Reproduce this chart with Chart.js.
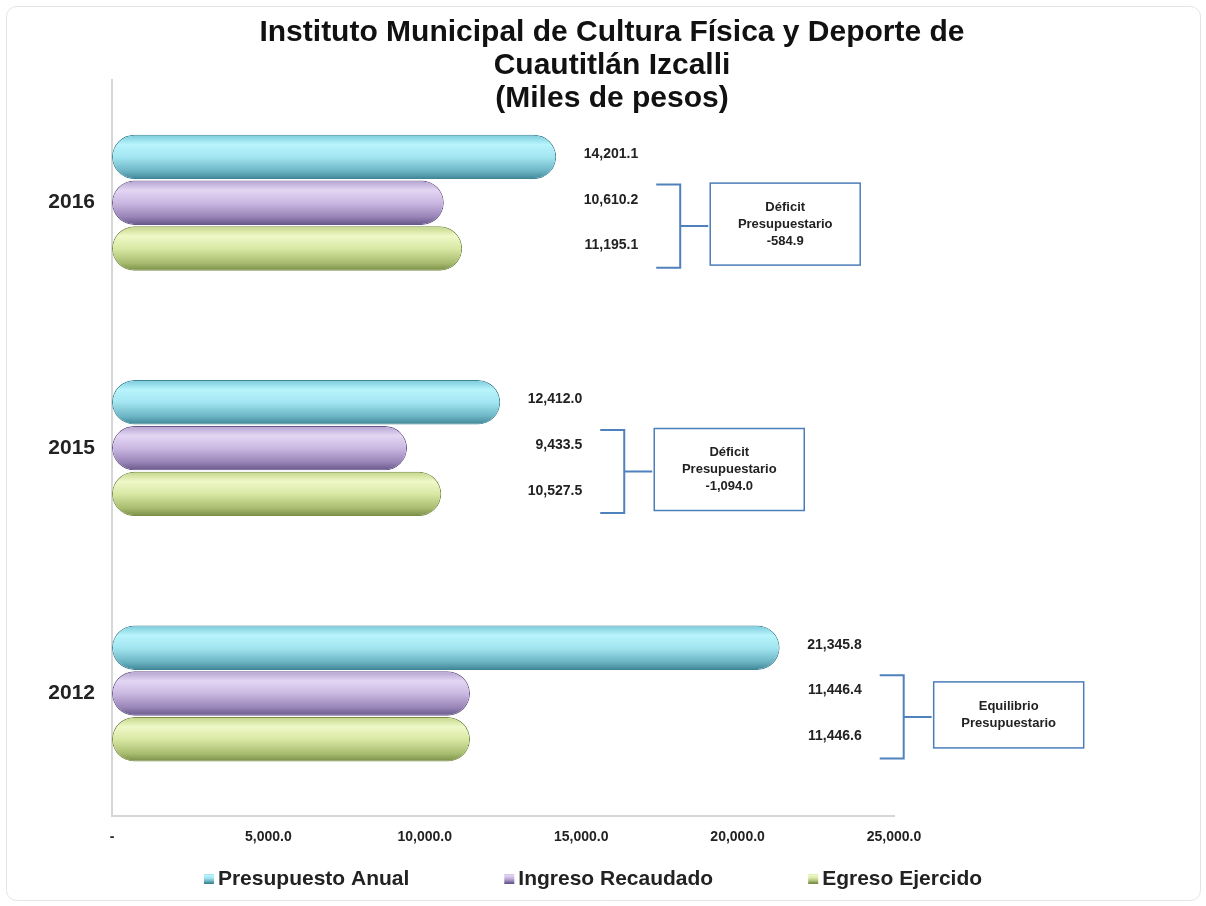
<!DOCTYPE html>
<html>
<head>
<meta charset="utf-8">
<script src="https://cdn.jsdelivr.net/npm/chart.js@4"></script>
<style>
  body { margin: 0; background: #fff; }
  #wrap { width: 1206px; height: 906px; }
</style>
</head>
<body>
<div id="wrap"><canvas id="budgetChart" width="1206" height="906"></canvas></div>
<script>
// Data (miles de pesos)
const years = ['2016', '2015', '2012'];
const presupuestoAnual = [14201.1, 12412.0, 21345.8];
const ingresoRecaudado = [10610.2, 9433.5, 11446.4];
const egresoEjercido = [11195.1, 10527.5, 11446.6];
const balanceNotes = [
    ['Déficit', 'Presupuestario', '-584.9'],
    ['Déficit', 'Presupuestario', '-1,094.0'],
    ['Equilibrio', 'Presupuestario']
];
const seriesNames = ['Presupuesto Anual', 'Ingreso Recaudado', 'Egreso Ejercido'];
const xMax = 25000;
const xStep = 5000;

// cylinder shading per series: [edge, highlight, mid, shade, dark edge]
const shades = [
    ['#79cadb', '#b8f4fc', '#a3e6f1', '#6cb4c4', '#3f8595'],
    ['#b3a1cf', '#e3d6f3', '#cbb8e2', '#9884b6', '#67578a'],
    ['#c3d688', '#eff8c8', '#d9e8a4', '#a8bd70', '#7a8d47']
];

const fmt = v => v.toLocaleString('en-US', { minimumFractionDigits: 1, maximumFractionDigits: 1 });

function cylinder(ctx, top, bottom, s) {
    const g = ctx.createLinearGradient(0, top, 0, bottom);
    g.addColorStop(0, s[0]);
    g.addColorStop(0.22, s[1]);
    g.addColorStop(0.5, s[2]);
    g.addColorStop(0.82, s[3]);
    g.addColorStop(1, s[4]);
    return g;
}

// frame around the whole picture
const framePlugin = {
    id: 'frame',
    beforeDraw(chart) {
        const ctx = chart.ctx;
        ctx.save();
        ctx.strokeStyle = '#e4e4e4';
        ctx.lineWidth = 1;
        ctx.beginPath();
        ctx.roundRect(6.5, 6.5, chart.width - 12, chart.height - 12, 10);
        ctx.stroke();
        ctx.restore();
    }
};

// give every bar a vertical gradient so it looks like a tube
const tubePlugin = {
    id: 'tubes',
    beforeDatasetsDraw(chart) {
        chart.data.datasets.forEach((ds, di) => {
            chart.getDatasetMeta(di).data.forEach(bar => {
                const top = bar.y - bar.height / 2;
                bar.options.backgroundColor = cylinder(chart.ctx, top, top + bar.height, shades[di]);
            });
        });
    }
};

// value labels, bracket and the note box for each year
const notesPlugin = {
    id: 'notes',
    afterDatasetsDraw(chart) {
        const ctx = chart.ctx;
        const x = chart.scales.x;
        ctx.save();
        years.forEach((yr, i) => {
            const bars = chart.data.datasets.map((ds, di) => chart.getDatasetMeta(di).data[i]);
            const vals = chart.data.datasets.map(ds => ds.data[i]);
            const right = x.getPixelForValue(Math.max(...vals)) + 82;

            ctx.font = 'bold 14px Arial';
            ctx.fillStyle = '#222';
            ctx.textAlign = 'right';
            ctx.textBaseline = 'middle';
            bars.forEach((b, di) => ctx.fillText(fmt(vals[di]), right, b.y - 3));

            const top = bars[1].y - bars[1].height / 2 + 4;
            const bottom = bars[2].y + bars[2].height / 2 - 3;
            const mid = (top + bottom) / 2;
            ctx.strokeStyle = '#4f81bd';
            ctx.lineWidth = 2;
            ctx.beginPath();
            ctx.moveTo(right + 18, top);
            ctx.lineTo(right + 42, top);
            ctx.lineTo(right + 42, bottom);
            ctx.lineTo(right + 18, bottom);
            ctx.moveTo(right + 42, mid);
            ctx.lineTo(right + 70, mid);
            ctx.stroke();

            const lines = balanceNotes[i];
            const h = lines.length * 16 + 34;
            const w = 150;
            const bx = right + 72;
            const by = mid - h / 2 - 2;
            ctx.fillStyle = '#fff';
            ctx.fillRect(bx, by, w, h);
            ctx.lineWidth = 1.5;
            ctx.strokeStyle = '#4a7ebb';
            ctx.strokeRect(bx, by, w, h);
            ctx.fillStyle = '#222';
            ctx.font = 'bold 13px Arial';
            ctx.textAlign = 'center';
            lines.forEach((t, k) => {
                ctx.fillText(t, bx + w / 2, by + h / 2 + (k - (lines.length - 1) / 2) * 17);
            });
        });
        ctx.restore();
    }
};

// legend with wide gaps, drawn under the axis
const legendPlugin = {
    id: 'wideLegend',
    afterDraw(chart) {
        const ctx = chart.ctx;
        const gap = 95;
        ctx.save();
        ctx.font = 'bold 21px Arial';
        ctx.textBaseline = 'middle';
        ctx.textAlign = 'left';
        const widths = seriesNames.map(n => 10 + 4 + ctx.measureText(n).width);
        const total = widths.reduce((a, b) => a + b, 0) + gap * (widths.length - 1);
        let cx = 593 - total / 2;
        const cy = 878;
        seriesNames.forEach((n, i) => {
            ctx.fillStyle = cylinder(ctx, cy - 5, cy + 5, shades[i]);
            ctx.fillRect(cx, cy - 4, 10, 10);
            ctx.fillStyle = '#222';
            ctx.fillText(n, cx + 14, cy + 1);
            cx += widths[i] + gap;
        });
        ctx.restore();
    }
};

const datasets = [presupuestoAnual, ingresoRecaudado, egresoEjercido].map((vals, i) => ({
    label: seriesNames[i],
    data: vals,
    backgroundColor: () => shades[i][2],
    borderColor: shades[i][4],
    borderWidth: 1,
    borderRadius: 100,
    borderSkipped: false,
    categoryPercentage: 0.56,
    barPercentage: 0.97
}));

new Chart(document.getElementById('budgetChart'), {
    type: 'bar',
    data: { labels: years, datasets: datasets },
    options: {
        indexAxis: 'y',
        responsive: false,
        animation: false,
        devicePixelRatio: 1,
        layout: { padding: { left: 18, right: 0, top: 0, bottom: 55 } },
        plugins: {
            legend: { display: false },
            tooltip: { enabled: false },
            title: {
                display: true,
                text: ['Instituto Municipal de Cultura Física y Deporte de', 'Cuautitlán Izcalli', '(Miles de pesos)'],
                color: '#111',
                font: { family: 'Arial', size: 30, weight: 'bold', lineHeight: 1.1 },
                padding: { top: 16, bottom: -35 }
            }
        },
        scales: {
            x: {
                min: 0,
                max: xMax,
                grid: { display: false },
                border: { display: true, color: '#d6d6d6', width: 2 },
                ticks: {
                    stepSize: xStep,
                    padding: 5,
                    color: '#222',
                    font: { family: 'Arial', size: 14, weight: 'bold' },
                    callback: v => v === 0 ? '-' : fmt(v)
                }
            },
            y: {
                afterFit: s => { s.width = 94; },
                grid: { display: false },
                border: { display: true, color: '#d6d6d6', width: 2 },
                ticks: {
                    padding: 9,
                    color: '#222',
                    font: { family: 'Arial', size: 21, weight: 'bold' }
                }
            },
            // empty axis that only keeps room on the right for the notes
            rightRoom: {
                type: 'linear',
                axis: 'y',
                position: 'right',
                afterFit: s => { s.width = 312; },
                grid: { display: false },
                border: { display: false },
                ticks: { display: false }
            }
        }
    },
    plugins: [framePlugin, tubePlugin, notesPlugin, legendPlugin]
});
</script>
</body>
</html>
